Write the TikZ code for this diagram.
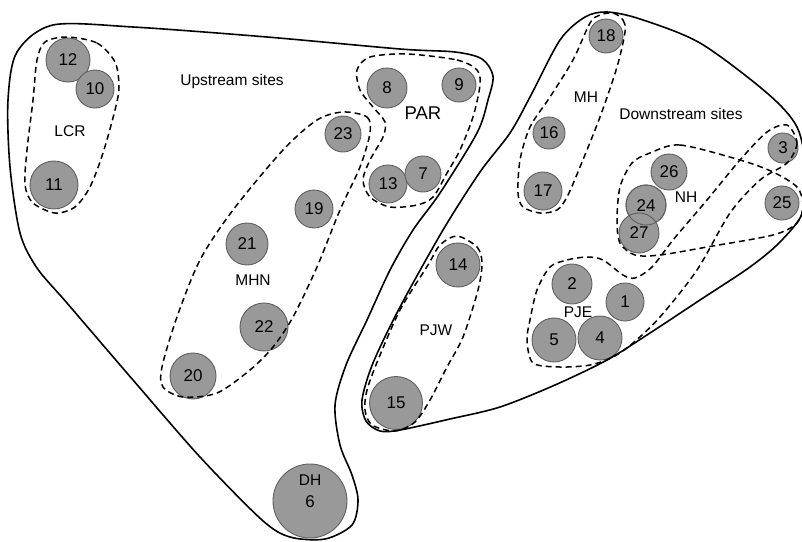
\documentclass[tikz,border=0pt]{standalone}
\usepackage{fontspec}
\setmainfont{Liberation Sans}
\definecolor{sitefill}{RGB}{153,153,153}
\definecolor{siteedge}{RGB}{95,95,95}
\begin{document}
\begin{tikzpicture}[x=1pt,y=-1pt,
  site/.style={circle,fill=sitefill,draw=siteedge,line width=0.9pt,inner sep=0pt,
    font=\fontsize{17}{20}\selectfont},
  grouplbl/.style={font=\fontsize{15.5}{18}\selectfont,inner sep=0pt},
  groupline/.style={line width=1.5pt,dash pattern=on 6pt off 4pt},
  regionline/.style={line width=1.6pt}]
\useasboundingbox (0,0) rectangle (802,541);
\fill[white] (0,0) rectangle (802,541);
% sites
\node[site,minimum size=44pt] (c12) at (68,60) {12};
\node[site,minimum size=38pt] (c10) at (95,89) {10};
\node[site,minimum size=48pt] (c11) at (54,185) {11};
\node[site,minimum size=40pt] (c8) at (387,88) {8};
\node[site,minimum size=34pt] (c9) at (459,85) {9};
\node[site,minimum size=38pt] (c13) at (388,184) {13};
\node[site,minimum size=36pt] (c7) at (423,174) {7};
\node[site,minimum size=36pt] (c23) at (343,134) {23};
\node[site,minimum size=38pt] (c19) at (314,209) {19};
\node[site,minimum size=42pt] (c21) at (247,244) {21};
\node[site,minimum size=48pt] (c22) at (264,327) {22};
\node[site,minimum size=46pt] (c20) at (193,376) {20};
\node[site,minimum size=74pt] (c6) at (310,501) {};
\node[font=\fontsize{17}{20}\selectfont,inner sep=0pt] (t6) at (310,502) {6};
\node[grouplbl] (lDH) at (310,480) {DH};
\node[site,minimum size=34pt] (c18) at (606,36) {18};
\node[site,minimum size=32pt] (c16) at (549,133) {16};
\node[site,minimum size=38pt] (c17) at (543,191) {17};
\node[site,minimum size=30pt] (c3) at (783,148) {3};
\node[site,minimum size=36pt] (c26) at (669,172) {26};
\node[site,minimum size=40pt] (c24) at (646,205) {};
\node[site,minimum size=40pt] (c27) at (639,233) {27};
\draw[siteedge,line width=0.9pt] (c24.center) circle (20pt);
\node[font=\fontsize{17}{20}\selectfont,inner sep=0pt] (t24) at (646,206) {24};
\node[site,minimum size=34pt] (c25) at (782,203) {25};
\node[site,minimum size=44pt] (c14) at (458,265) {14};
\node[site,minimum size=53pt] (c15) at (396,403) {15};
\node[site,minimum size=40pt] (c2) at (572,284) {2};
\node[site,minimum size=38pt] (c1) at (625,302) {1};
\node[site,minimum size=44pt] (c5) at (554,340) {5};
\node[site,minimum size=44pt] (c4) at (600,338) {4};
% labels
\node[grouplbl] (lUp) at (232,81) {Upstream sites};
\node[grouplbl] (lDown) at (681,114) {Downstream sites};
\node[grouplbl] (lLCR) at (70,131) {LCR};
\node[font=\fontsize{18.5}{22}\selectfont,inner sep=0pt] (lPAR) at (423,113) {PAR};
\node[grouplbl] (lMHN) at (253,280) {MHN};
\node[grouplbl] (lMH) at (586,97) {MH};
\node[grouplbl] (lNH) at (686,197) {NH};
\node[grouplbl] (lPJE) at (578,312) {PJE};
\node[grouplbl] (lPJW) at (436,330) {PJW};
% region outlines
\draw[regionline] plot[smooth cycle] coordinates {
 (53,25) (133,27) (267,37) (400,49) (455,52) (482,59) (493,76) (488,100)
 (477,133) (440,193) (413,230) (390,270) (367,320) (346,365) (335,405)
 (340,445) (352,475) (358,500) (352,525) (325,539) (290,537) (262,520)
 (200,457) (133,380) (67,303) (37,268) (20,233) (10,167) (8,100) (17,52)};
\draw[regionline] plot[smooth cycle] coordinates {
 (607,12) (640,19) (700,43) (767,93) (797,127) (806,170) (803,212)
 (780,242) (750,267) (700,300) (650,333) (607,360) (555,385) (500,407)
 (450,419) (400,430) (380,431) (366,421) (362,400) (373,363) (400,307)
 (443,230) (480,172) (510,133) (530,97) (560,40) (585,17)};
% groups
\draw[groupline] plot[smooth cycle] coordinates {
 (67,37) (97,43) (115,62) (119,87) (115,110) (103,153) (90,187) (75,207)
 (55,213) (33,203) (25,185) (27,150) (33,100) (37,60) (45,42)};
\draw[groupline] plot[smooth cycle] coordinates {
 (407,54) (457,60) (477,70) (480,85) (473,117) (460,150) (447,173)
 (433,197) (417,205) (390,207) (370,197) (363,180) (370,160) (383,137)
 (385,122) (373,107) (360,90) (357,70) (370,57)};
\draw[groupline] plot[smooth cycle] coordinates {
 (343,112) (367,117) (370,133) (360,167) (340,210) (317,267) (293,317)
 (273,347) (250,370) (217,393) (183,397) (163,387) (162,367) (177,317)
 (200,260) (233,210) (283,150) (317,120)};
\draw[groupline] plot[smooth cycle] coordinates {
 (613,13) (623,20) (625,32) (617,67) (600,117) (580,167) (567,197)
 (557,210) (540,213) (523,207) (518,193) (520,160) (530,127) (550,97)
 (573,60) (590,23) (600,15)};
\draw[groupline] plot[smooth cycle] coordinates {
 (650,153) (680,145) (740,160) (773,172) (797,187) (803,205) (797,223)
 (773,235) (707,247) (660,255) (635,255) (620,243) (617,220) (620,187)
 (632,163)};
\draw[groupline] plot[smooth cycle] coordinates {
 (787,125) (797,143) (787,163) (760,180) (730,213) (697,270) (660,317)
 (633,343) (613,357) (590,365) (560,367) (533,363) (527,340) (530,320)
 (537,290) (550,267) (567,260) (587,257) (603,260) (623,275) (635,278)
 (652,267) (673,240) (707,200) (740,160) (767,132)};
\draw[groupline] plot[smooth cycle] coordinates {
 (457,236) (477,247) (482,263) (478,290) (463,337) (447,367) (430,400)
 (415,422) (395,431) (372,425) (365,410) (367,390) (378,360) (400,310)
 (428,265) (440,245)};
\end{tikzpicture}
\end{document}
